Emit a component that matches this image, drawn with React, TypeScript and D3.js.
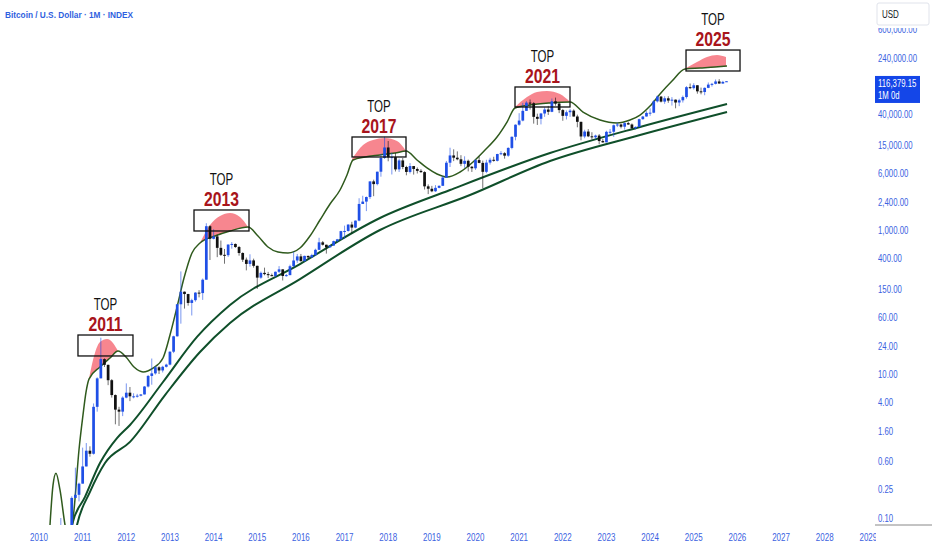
import * as d3 from "d3";

const W = 932;
const H = 550;

// monthly candles from Jul 2010 to Oct 2025, open = previous close
const startYear = 2010.5;
const firstOpen = 0.05;
const closes = [
  0.07, 0.06, 0.06, 0.19, 0.21, 0.3,
  0.52, 0.86, 0.78, 3.5, 8.7, 16.1, 13.4, 8.2, 5.1, 3.2, 3.0, 4.7,
  5.5, 4.9, 4.9, 5.0, 5.2, 6.7, 9.4, 10.2, 12.4, 11.2, 12.6, 13.5,
  20.4, 33.4, 93, 139, 129, 97, 106, 135, 133, 204, 1129, 754,
  815, 565, 452, 447, 628, 640, 580, 479, 387, 338, 378, 318,
  218, 254, 244, 236, 230, 263, 284, 230, 236, 314, 377, 430,
  369, 437, 416, 448, 531, 674, 624, 574, 608, 700, 742, 964,
  970, 1190, 1080, 1350, 2300, 2480, 2870, 4730, 4340, 6450, 10000, 14000,
  10200, 10300, 6950, 9250, 7500, 6400, 7730, 7040, 6630, 6370, 4040, 3740,
  3450, 3850, 4110, 5350, 8600, 10850, 10100, 9600, 8300, 9150, 7560, 7200,
  9350, 8550, 6430, 8630, 9450, 9140, 11350, 11650, 10780, 13800, 19700, 29000,
  33100, 45200, 58800, 57700, 37300, 35000, 41500, 47100, 43800, 61300, 57000, 46300,
  38500, 43200, 45500, 37700, 31800, 19900, 23300, 20000, 19400, 20500, 17200, 16500,
  23100, 23150, 28500, 29200, 27200, 30500, 29200, 25900, 27000, 34600, 37700, 42300,
  42600, 61200, 71300, 60700, 67500, 62700, 64600, 59000, 63300, 70200, 96400, 93400,
  102400, 84300, 82500, 94200, 104600, 107100, 115700, 108200, 114000, 116379.15,
];
const highs = [
  0.1, 0.07, 0.07, 0.2, 0.5, 0.31,
  0.95, 1.1, 0.99, 3.9, 9.0, 31.9, 16.5, 13.5, 8.5, 5.2, 3.5, 4.9,
  7.4, 6.6, 5.4, 5.3, 5.25, 6.8, 9.7, 16.4, 12.9, 12.8, 13.0, 13.9,
  20.7, 34, 94, 266, 140, 130, 111, 137, 146, 212, 1242, 1163,
  1025, 860, 714, 545, 630, 680, 650, 600, 490, 414, 460, 400,
  320, 265, 300, 262, 248, 265, 315, 285, 245, 330, 500, 465,
  465, 440, 440, 468, 550, 780, 704, 625, 612, 712, 752, 975,
  1150, 1200, 1300, 1355, 2760, 2990, 2920, 4740, 5000, 6470, 11400, 19700,
  17200, 11800, 11700, 9800, 10000, 7800, 8500, 7750, 7400, 7000, 6550, 4300,
  4100, 4200, 4150, 5650, 9100, 13900, 13200, 12350, 10950, 10550, 9500, 7750,
  9600, 10500, 9200, 9450, 10070, 10400, 11450, 12470, 12050, 14100, 19900, 29300,
  41900, 58300, 61700, 64900, 59600, 41300, 42300, 50500, 52900, 67000, 69000, 59100,
  48000, 45800, 48200, 47400, 40000, 31900, 24700, 25200, 22800, 21100, 21500, 18400,
  23900, 25300, 29200, 31000, 29800, 31400, 31800, 30200, 27500, 35200, 38400, 44700,
  48900, 64000, 73800, 72800, 72000, 72000, 70000, 65000, 66500, 73600, 99600, 108300,
  109300, 102500, 95000, 95700, 111900, 110500, 123200, 124500, 117900, 117000,
];
const lows = [
  0.05, 0.06, 0.06, 0.06, 0.19, 0.17,
  0.3, 0.52, 0.71, 0.76, 3.0, 8.7, 12.5, 7.0, 4.7, 2.0, 1.9, 2.6,
  4.6, 4.2, 4.6, 4.7, 4.9, 5.2, 6.5, 7.1, 9.8, 10.0, 10.5, 12.3,
  13.2, 19.5, 33, 50, 81, 89, 65, 101, 116, 107, 204, 383,
  740, 420, 435, 340, 423, 550, 565, 440, 360, 275, 310, 300,
  152, 210, 235, 215, 228, 220, 253, 199, 225, 236, 305, 350,
  365, 367, 394, 414, 437, 526, 608, 470, 568, 603, 682, 740,
  750, 950, 890, 1060, 1320, 2300, 1830, 2700, 2950, 4170, 5500, 9700,
  9000, 5900, 6500, 6400, 7000, 5750, 6100, 5880, 6100, 6200, 3650, 3150,
  3350, 3380, 3800, 4100, 5350, 7500, 9050, 9300, 7700, 7300, 6520, 6400,
  6850, 8450, 3800, 6150, 8100, 8900, 8950, 10950, 9800, 10400, 13200, 17600,
  28100, 32300, 45000, 47000, 30000, 28800, 29300, 37300, 39600, 43300, 53300, 42000,
  32900, 34300, 37200, 37600, 26700, 17600, 18800, 19500, 18100, 18200, 15500, 16300,
  16500, 21400, 19600, 26900, 25800, 24800, 28900, 25300, 24900, 26900, 34100, 37600,
  38500, 41900, 59000, 59100, 56500, 58400, 53500, 49000, 52500, 58900, 66800, 90500,
  89200, 78200, 76600, 74400, 93300, 98200, 105100, 108000, 107200, 113900,
];

const lastPrice = 116379.15;
const priceTicks = [600000, 240000, 40000, 15000, 6000, 2400, 1000, 400, 150, 60, 24, 10, 4, 1.6, 0.6, 0.25, 0.1];
const yearTicks = d3.range(2010, 2030);

// [decimal year, price]
const cycleCurve: [number, number][] = [
  [2010.252, 0.08], [2010.321, 0.287], [2010.389, 0.42], [2010.481, 0.245], [2010.596, 0.08],
  [2010.687, 0.042], [2010.802, 0.129], [2010.916, 0.88], [2011.008, 2.7], [2011.077, 5.6],
  [2011.145, 8.5], [2011.397, 12.5], [2011.627, 16.7], [2011.81, 20.8], [2011.993, 17.2],
  [2012.176, 12.5], [2012.383, 10.7], [2012.612, 12.1], [2012.841, 16.7], [2013.001, 34.8],
  [2013.162, 85], [2013.322, 215], [2013.505, 480], [2013.688, 660], [2014.032, 826],
  [2014.376, 968], [2014.788, 1100], [2015.017, 826], [2015.246, 581], [2015.475, 495],
  [2015.704, 480], [2015.979, 562], [2016.208, 826], [2016.437, 1377], [2016.667, 2296],
  [2016.896, 3593], [2017.056, 5810], [2017.194, 9380], [2017.469, 10330], [2017.812, 11010],
  [2018.156, 11720], [2018.408, 12500], [2018.66, 9380], [2018.889, 7270], [2019.118, 5990],
  [2019.347, 5440], [2019.645, 6390], [2019.943, 8800], [2020.218, 12900], [2020.493, 19580],
  [2020.722, 31600], [2020.905, 49460], [2021.249, 54500], [2021.707, 58100], [2022.165, 59900],
  [2022.463, 43500], [2022.852, 33700], [2023.242, 30600], [2023.54, 33700], [2023.769, 39500],
  [2023.998, 52700], [2024.227, 77400], [2024.502, 117200], [2024.8, 172200], [2025.144, 177800],
  [2025.487, 183600], [2025.762, 189700],
];

const upperBand: [number, number][] = [
  [2010.687, 0.042], [2010.756, 0.08], [2011.054, 0.196], [2011.397, 0.58], [2011.787, 1.29],
  [2012.085, 1.96], [2012.841, 7.74], [2013.62, 32.7], [2014.376, 90.8], [2015.979, 337],
  [2017.812, 1468], [2019.416, 3590], [2021.707, 11720], [2023.769, 26980], [2025.762, 56230],
];

const lowerBand: [number, number][] = [
  [2010.779, 0.042], [2010.871, 0.08], [2011.168, 0.23], [2011.512, 0.58], [2012.085, 1.14],
  [2012.887, 5.1], [2013.688, 20.2], [2014.376, 51], [2015.979, 208], [2017.812, 1000],
  [2019.874, 3060], [2021.707, 9080], [2023.769, 20840], [2025.762, 43500],
];

const topLabels = ["2011", "2013", "2017", "2021", "2025"];
const topBoxYears: [number, number][] = [
  [2010.893, 2012.153], [2013.551, 2014.811], [2017.171, 2018.408], [2020.905, 2022.165], [2024.823, 2026.06],
];
const topBoxPrices: [number, number][] = [
  [17.8, 34.8], [969, 1896], [10330, 19580], [51100, 96900], [161600, 316000],
];
const topDomes: [number, number][][] = [
  [[2011.145, 8.5], [2011.237, 15.6], [2011.397, 27.8], [2011.558, 30.6], [2011.695, 27], [2011.81, 20.8]],
  [[2013.688, 660], [2013.918, 1173], [2014.147, 1564], [2014.376, 1722], [2014.605, 1517], [2014.788, 1100]],
  [[2017.171, 9680], [2017.423, 15170], [2017.652, 17780], [2017.927, 18970], [2018.202, 17220], [2018.408, 12500]],
  [[2020.905, 51100], [2021.18, 70300], [2021.409, 82500], [2021.638, 85300], [2021.936, 77400], [2022.165, 59900]],
  [[2024.823, 177800], [2025.074, 215400], [2025.303, 253000], [2025.533, 269800], [2025.739, 253000]],
];

const font = "'Liberation Sans', Arial, sans-serif";
const axisBlue = "#3b62df";
const upColor = "#1f4fe6";
const downColor = "#111111";

export default function App() {
  const x = d3.scaleLinear().domain([2010, 2029]).range([39, 39 + 19 * 43.65]);
  const y = d3.scaleLog().domain([0.1, 1000]).range([518, 230]);

  const candles = closes.map((c, i) => ({
    t: startYear + i / 12,
    o: i ? closes[i - 1] : firstOpen,
    h: highs[i],
    l: lows[i],
    c,
  }));
  const bodyW = ((x(2011) - x(2010)) / 12) * 0.75;

  const line = d3
    .line<[number, number]>()
    .x(d => x(d[0]))
    .y(d => y(d[1]))
    .curve(d3.curveMonotoneX);
  const aboveCycle = d3
    .area<[number, number]>()
    .x(d => x(d[0]))
    .y0(-20)
    .y1(d => y(d[1]))
    .curve(d3.curveMonotoneX);
  const dome = d3
    .area<[number, number]>()
    .x(d => x(d[0]))
    .y0(H + 50)
    .y1(d => y(d[1]))
    .curve(d3.curveMonotoneX);

  const fmt = d3.format(",.2f");
  const py = y(lastPrice);

  return (
    <svg
      width={W}
      height={H}
      style={{ position: "absolute", left: 0, top: 0, background: "#fff" }}
      fontFamily={font}
    >
      <defs>
        <clipPath id="plot">
          <rect x={0} y={0} width={875} height={525} />
        </clipPath>
        <clipPath id="above-cycle">
          <path d={aboveCycle(cycleCurve) ?? ""} />
        </clipPath>
        <clipPath id="time-axis">
          <rect x={0} y={525} width={876} height={25} />
        </clipPath>
      </defs>

      <text x={5} y={18} fontSize={9.5} fontWeight={700} fill="#2f5fe0" textLength={128} lengthAdjust="spacingAndGlyphs">
        Bitcoin / U.S. Dollar · 1M · INDEX
      </text>

      <g clipPath="url(#plot)">
        <g clipPath="url(#above-cycle)">
          {topDomes.map((d, i) => (
            <path key={i} d={dome(d) ?? ""} fill="#f23645" fillOpacity={0.6} />
          ))}
        </g>

        <path d={line(upperBand) ?? ""} fill="none" stroke="#0f4f2a" strokeWidth={2} />
        <path d={line(lowerBand) ?? ""} fill="none" stroke="#0f4f2a" strokeWidth={2} />
        <path d={line(cycleCurve) ?? ""} fill="none" stroke="#2f5a1d" strokeWidth={1.5} />

        {candles.map((k, i) => {
          const color = k.c >= k.o ? upColor : downColor;
          const cx = x(k.t);
          const top = y(Math.max(k.o, k.c));
          const bot = y(Math.min(k.o, k.c));
          return (
            <g key={i}>
              <line x1={cx} x2={cx} y1={y(k.h)} y2={y(k.l)} stroke={color} strokeWidth={0.8} strokeOpacity={0.75} />
              <rect x={cx - bodyW / 2} y={top} width={bodyW} height={Math.max(1, bot - top)} fill={color} />
            </g>
          );
        })}

        {topLabels.map((label, i) => {
          const [x0, x1] = topBoxYears[i];
          const [p0, p1] = topBoxPrices[i];
          const bx = x(x0);
          const bw = x(x1) - bx;
          const by = y(p1);
          const bh = y(p0) - by;
          const cx = bx + bw / 2;
          return (
            <g key={label}>
              <rect x={bx} y={by} width={bw} height={bh} fill="none" stroke="#111" strokeWidth={1.3} />
              <text transform={`translate(${cx},${by - 4}) scale(0.75,1)`} textAnchor="middle" fontSize={21} fontWeight={700} fill="#a8141b">
                {label}
              </text>
              <text transform={`translate(${cx},${by - 25}) scale(0.7,1)`} textAnchor="middle" fontSize={16.5} fill="#111">
                TOP
              </text>
            </g>
          );
        })}
      </g>

      <g clipPath="url(#time-axis)">
        {yearTicks.map(t => (
          <text key={t} transform={`translate(${x(t)},541) scale(0.8,1)`} textAnchor="middle" fontSize={10} fill={axisBlue}>
            {t}
          </text>
        ))}
      </g>

      {priceTicks.map(p => (
        <text key={p} transform={`translate(878,${y(p) + 3.5}) scale(0.78,1)`} fontSize={10} fill={axisBlue}>
          {fmt(p)}
        </text>
      ))}

      <line x1={875} x2={W} y1={525} y2={525} stroke="#888" strokeWidth={1} />

      <rect x={875} y={py - 5.3} width={45} height={27} fill="#1446e8" />
      <text transform={`translate(878,${py + 6}) scale(0.78,1)`} fontSize={10} fill="#fff">
        {fmt(lastPrice)}
      </text>
      <text transform={`translate(878,${py + 17.5}) scale(0.78,1)`} fontSize={10} fill="#fff">
        1M 0d
      </text>

      <rect x={874} y={0} width={58} height={28} fill="#fff" />
      <rect x={877} y={3} width={52} height={22} rx={2} fill="#fff" stroke="#e0e3eb" />
      <text transform={`translate(882,17.5) scale(0.8,1)`} fontSize={10} fill="#131722">
        USD
      </text>
    </svg>
  );
}
